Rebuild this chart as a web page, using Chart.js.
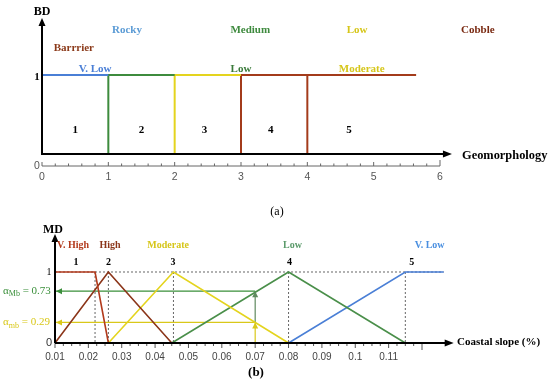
<!DOCTYPE html>
<html><head><meta charset="utf-8">
<script src="https://cdn.jsdelivr.net/npm/chart.js@4.4.0/dist/chart.umd.min.js"></script>
<style>
html,body{margin:0;padding:0;background:#fff;}
#wrap{position:relative;width:550px;height:382px;}
canvas{position:absolute;left:0;}
#c1{top:0;} #c2{top:220px;}
</style></head><body>
<div id="wrap"><canvas id="c1" width="550" height="220"></canvas><canvas id="c2" width="550" height="162"></canvas></div>
<script>
// ---------- Data (a) ----------
const geoTicks = [0, 1, 2, 3, 4, 5, 6];
const geoClassNumbers = ['1', '2', '3', '4', '5'];
const geoTypes = ['Rocky', 'Medium', 'Low', 'Cobble', 'Barrrier'];
const bdClasses = ['V. Low', 'Low', 'Moderate'];
const bdVLowX = [0, 1];        const bdVLowY = [1, 1];
const bdLowX = [1, 1, 2];      const bdLowY = [0, 1, 1];
const bdModX = [2, 2, 3];      const bdModY = [0, 1, 1];
const bdCobX = [3, 3, 5.64];   const bdCobY = [0, 1, 1];
const bdCob2X = [4, 4];        const bdCob2Y = [0, 1];

// ---------- Data (b) ----------
const slopeTicks = ['0.01','0.02','0.03','0.04','0.05','0.06','0.07','0.08','0.09','0.1','0.11'];
const mdClasses = ['V. High', 'High', 'Moderate', 'Low', 'V. Low'];
const mdNumbers = ['1', '2', '3', '4', '5'];
const vHighX = [0.01, 0.022, 0.026];     const vHighY = [1, 1, 0];
const highX = [0.01, 0.026, 0.045];      const highY = [0, 1, 0];
const moderateX = [0.026, 0.0455, 0.08]; const moderateY = [0, 1, 0];
const lowX = [0.045, 0.08, 0.115];       const lowY = [0, 1, 0];
const vLowX = [0.08, 0.115, 0.1265];     const vLowY = [0, 1, 1];
const peakX = [0.022, 0.026, 0.0455, 0.08, 0.115];
const alphaMb = 0.73, alphamb = 0.29, slopeInput = 0.07;

// ---------- helpers ----------
const SERIF = '"Liberation Serif", "DejaVu Serif", serif';
const SANS = '"Liberation Sans", Arial, sans-serif';
const pts = (xs, ys) => xs.map((x, i) => ({x: x, y: ys[i]}));
function line(data, color, w, dash) {
  return {type: 'line', data: data, borderColor: color, borderWidth: w, pointRadius: 0,
    tension: 0, fill: false, clip: false, borderDash: dash || [], spanGaps: false};
}
function txt(ctx, s, x, y, font, color, align) {
  ctx.save(); ctx.font = font; ctx.fillStyle = color; ctx.textAlign = align || 'center';
  ctx.textBaseline = 'middle'; ctx.fillText(s, x, y); ctx.restore();
}
function arrow(ctx, x, y, dir, len, half, color) {
  ctx.save(); ctx.fillStyle = color; ctx.beginPath(); ctx.moveTo(x, y);
  if (dir === 'up') { ctx.lineTo(x - half, y + len); ctx.lineTo(x + half, y + len); }
  if (dir === 'right') { ctx.lineTo(x - len, y - half); ctx.lineTo(x - len, y + half); }
  if (dir === 'left') { ctx.lineTo(x + len, y - half); ctx.lineTo(x + len, y + half); }
  ctx.closePath(); ctx.fill(); ctx.restore();
}
function seg(ctx, x1, y1, x2, y2, color, w) {
  ctx.save(); ctx.strokeStyle = color; ctx.lineWidth = w; ctx.beginPath();
  ctx.moveTo(x1, y1); ctx.lineTo(x2, y2); ctx.stroke(); ctx.restore();
}

const C = {
  blue: '#4a7fd6', blueLbl: '#5b9bd5', green: '#3d8b3d', greenLbl: '#3e8a3e',
  yellow: '#e4d41e', yellowLbl: '#d6c61a', brown: '#a33b1b', cobble: '#7a2a12',
  barrier: '#8b3a1a', vhigh: '#b23a1c', high: '#8b3519', lowG: '#4a8f4a',
  lowLbl: '#5a9a6a', vlowLbl: '#4a8fe0', alphaG: '#3a8f3a', alphaY: '#d9c81a'
};

// ---------- Chart (a) ----------
const plugA = {
  id: 'plugA',
  afterDraw(chart) {
    const ctx = chart.ctx, xs = chart.scales.x, ys = chart.scales.y, a = chart.chartArea;
    const X = v => xs.getPixelForValue(v), Y = v => ys.getPixelForValue(v);
    // arrow axes
    seg(ctx, X(0), Y(0) + 1, X(0), a.top + 5, '#000', 2);
    arrow(ctx, X(0), a.top - 2, 'up', 8, 3.5, '#000');
    seg(ctx, X(0), Y(0), X(6.1), Y(0), '#000', 2.2);
    arrow(ctx, X(6.18), Y(0), 'right', 9, 3.5, '#000');
    // tick axis
    const ty = a.bottom;
    seg(ctx, X(0), ty, X(6), ty, '#666', 1);
    for (let i = 0; i <= 30; i++) {
      const v = i * 0.2, h = (i === 30) ? 6 : (i % 5 === 0 ? 4 : 2.5);
      seg(ctx, X(v), ty, X(v), ty - h, '#666', 1);
    }
    // y labels
    txt(ctx, '1', X(0) - 5, Y(1) + 2, 'bold 11px ' + SERIF, '#000');
    txt(ctx, '0', X(0) - 5, ty, '10.5px ' + SANS, '#555');
    txt(ctx, 'BD', X(0), 12, 'bold 12px ' + SERIF, '#000');
    txt(ctx, 'Geomorphology', 462, Y(0) + 2, 'bold 12.4px ' + SERIF, '#000', 'left');
    // class labels
    const f = 'bold 11px ' + SERIF;
    const lbls = [
      [geoTypes[0], 1.28, 1.57, C.blueLbl], [geoTypes[1], 3.14, 1.57, C.greenLbl],
      [geoTypes[2], 4.75, 1.57, C.yellowLbl], [geoTypes[3], 6.57, 1.57, C.cobble],
      [geoTypes[4], 0.48, 1.34, C.barrier], [bdClasses[0], 0.8, 1.08, C.blue],
      [bdClasses[1], 3.0, 1.08, '#3a7a3a'], [bdClasses[2], 4.82, 1.08, C.yellowLbl]
    ];
    lbls.forEach(l => txt(ctx, l[0], X(l[1]), Y(l[2]), f, l[3]));
    const nx = [0.5, 1.5, 2.45, 3.45, 4.63];
    geoClassNumbers.forEach((n, i) => txt(ctx, n, X(nx[i]), Y(0.3), 'bold 11px ' + SERIF, '#000'));
    txt(ctx, '(a)', 277, 212, '12px ' + SERIF, '#000');
  }
};

new Chart(document.getElementById('c1'), {
  type: 'line',
  data: {datasets: [
    line(pts(bdVLowX, bdVLowY), C.blue, 2),
    line(pts(bdLowX, bdLowY), C.green, 2),
    line(pts(bdModX, bdModY), C.yellow, 2),
    line(pts(bdCobX, bdCobY), C.brown, 2),
    line(pts(bdCob2X, bdCob2Y), C.brown, 2)
  ]},
  options: {
    responsive: false, animation: false, devicePixelRatio: 1,
    layout: {padding: {left: 42, right: 110, top: 20, bottom: 34}},
    plugins: {legend: {display: false}, tooltip: {enabled: false}},
    scales: {
      x: {type: 'linear', min: 0, max: 6, afterFit: s => { s.height = 20; },
        grid: {display: false, drawTicks: false}, border: {display: false},
        afterBuildTicks: s => { s.ticks = geoTicks.map(v => ({value: v})); },
        ticks: {padding: 5, color: '#555', font: {family: SANS, size: 10.5}, maxRotation: 0,
          callback: v => String(v)}},
      y: {type: 'linear', min: -0.152, max: 1.696, display: false}
    }
  },
  plugins: [plugA]
});

// ---------- Chart (b) ----------
const plugB = {
  id: 'plugB',
  afterDraw(chart) {
    const ctx = chart.ctx, xs = chart.scales.x, ys = chart.scales.y, a = chart.chartArea;
    const X = v => xs.getPixelForValue(v), Y = v => ys.getPixelForValue(v);
    // arrowheads for alpha lines
    arrow(ctx, X(0.01) + 1, Y(alphaMb), 'left', 6, 3, C.alphaG);
    arrow(ctx, X(slopeInput), Y(alphaMb), 'up', 6, 3, '#5f8a5f');
    arrow(ctx, X(0.01) + 1, Y(alphamb), 'left', 6, 3, C.alphaY);
    arrow(ctx, X(slopeInput), Y(alphamb), 'up', 6, 3, C.alphaY);
    // axes
    seg(ctx, X(0.01), Y(0), X(0.01), a.top + 5, '#000', 2);
    arrow(ctx, X(0.01), a.top - 1, 'up', 8, 3.5, '#000');
    // ticks below axis
    for (let i = 0; i <= 44; i++) {
      const v = 0.01 + i * 0.0025, h = (i === 44) ? 7 : (i % 4 === 0 ? 5 : 3);
      seg(ctx, X(v), Y(0), X(v), Y(0) + h, '#555', 1);
    }
    seg(ctx, X(0.01), Y(0), X(0.128), Y(0), '#000', 2.2);
    arrow(ctx, X(0.1295), Y(0), 'right', 9, 3.5, '#000');
    txt(ctx, 'Coastal slope (%)', 457, Y(0) - 1, 'bold 11px ' + SERIF, '#000', 'left');
    txt(ctx, '1', X(0.01) - 6, Y(1), '10px ' + SERIF, '#000');
    txt(ctx, '0', X(0.01) - 6, Y(0), '11px ' + SANS, '#333');
    txt(ctx, 'MD', X(0.01) - 2, 10, 'bold 12px ' + SERIF, '#000');
    // class labels
    const f = 'bold 10px ' + SERIF;
    const lx = [0.0154, 0.0265, 0.0439, 0.0812, 0.1223];
    const lc = [C.vhigh, C.high, C.yellowLbl, C.lowLbl, C.vlowLbl];
    mdClasses.forEach((s, i) => txt(ctx, s, X(lx[i]), Y(1.38), f, lc[i]));
    const nx = [0.0163, 0.026, 0.0454, 0.0803, 0.1169];
    mdNumbers.forEach((s, i) => txt(ctx, s, X(nx[i]), Y(1.14), 'bold 10px ' + SERIF, '#000'));
    // alpha labels
    function alab(sub, val, y, color) {
      ctx.save(); ctx.fillStyle = color; ctx.textBaseline = 'middle'; ctx.textAlign = 'left';
      let x = 3;
      ctx.font = '11px ' + SERIF; ctx.fillText('\u03b1', x, y); x += ctx.measureText('\u03b1').width;
      ctx.font = '8px ' + SERIF; ctx.fillText(sub, x, y + 3); x += ctx.measureText(sub).width;
      ctx.font = '11px ' + SERIF; ctx.fillText(' = ' + val, x, y);
      ctx.restore();
    }
    alab('Mb', alphaMb.toFixed(2), Y(alphaMb), C.alphaG);
    alab('mb', alphamb.toFixed(2), Y(alphamb), C.alphaY);
    txt(ctx, '(b)', 256, 153, 'bold 13px ' + SERIF, '#000');
  }
};

const guides = [line(pts([0.01, vLowX[2]], [1, 1]), '#666', 1, [2, 2])];
peakX.forEach(p => guides.push(line(pts([p, p], [1, 0]), '#666', 1, [2, 2])));

new Chart(document.getElementById('c2'), {
  type: 'line',
  data: {datasets: [
    line(pts(vHighX, vHighY), C.vhigh, 1.6),
    line(pts(highX, highY), C.high, 1.6),
    line(pts(moderateX, moderateY), C.yellow, 1.6),
    line(pts(lowX, lowY), C.lowG, 1.6),
    line(pts(vLowX, vLowY), C.blue, 1.6),
    line(pts([slopeInput, 0.01], [alphaMb, alphaMb]), C.alphaG, 1.2),
    line(pts([slopeInput, slopeInput], [alphamb, alphaMb]), '#5f8a5f', 1.2),
    line(pts([slopeInput, 0.01], [alphamb, alphamb]), C.alphaY, 1.2),
    line(pts([slopeInput, slopeInput], [0, alphamb]), C.alphaY, 1.2)
  ].concat(guides)},
  options: {
    responsive: false, animation: false, devicePixelRatio: 1,
    layout: {padding: {left: 55, right: 128, top: 15, bottom: 19}},
    plugins: {legend: {display: false}, tooltip: {enabled: false}},
    scales: {
      x: {type: 'linear', min: 0.01, max: 0.12, afterFit: s => { s.height = 20; },
        grid: {display: false, drawTicks: false}, border: {display: false},
        afterBuildTicks: s => { s.ticks = slopeTicks.map(t => ({value: parseFloat(t)})); },
        ticks: {padding: 8, color: '#444', font: {family: SANS, size: 10}, maxRotation: 0,
          autoSkip: false,
          callback: (v, i) => slopeTicks[i]}},
      y: {type: 'linear', min: 0, max: 1.521, display: false}
    }
  },
  plugins: [plugB]
});
</script>
</body></html>
